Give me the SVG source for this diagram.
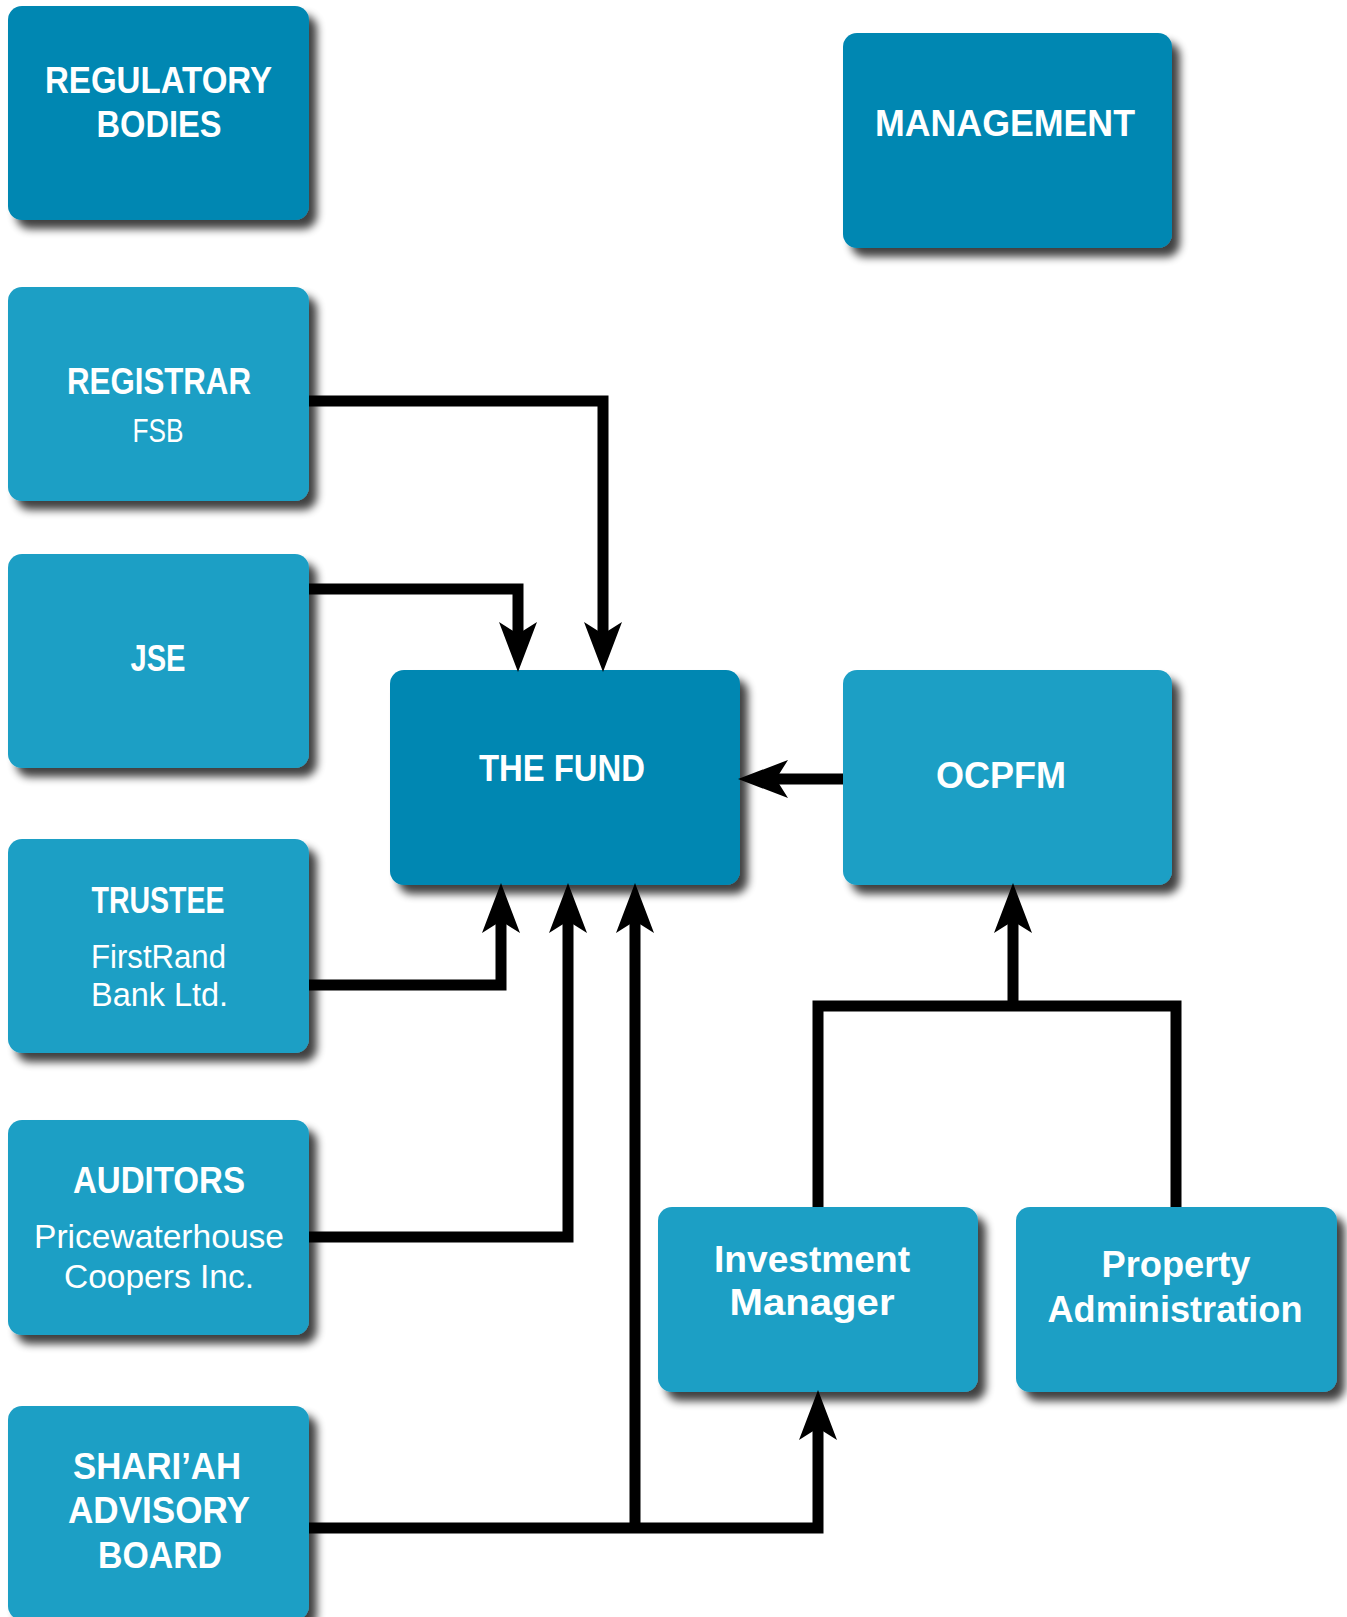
<svg xmlns="http://www.w3.org/2000/svg" width="1347" height="1617" viewBox="0 0 1347 1617">
<defs>
<filter id="sh" x="-10%" y="-10%" width="130%" height="135%">
<feGaussianBlur in="SourceAlpha" stdDeviation="4"/>
<feOffset dx="8" dy="9" result="b"/>
<feComponentTransfer><feFuncA type="linear" slope="0.75"/></feComponentTransfer>
<feMerge><feMergeNode/><feMergeNode in="SourceGraphic"/></feMerge>
</filter>
<marker id="ah" viewBox="0 0 50 38" refX="12" refY="19" markerWidth="50" markerHeight="38" markerUnits="userSpaceOnUse" orient="auto">
<path d="M0,0 L50,19 L0,38 L12,19 Z" fill="#000"/>
</marker>
</defs>
<style>
.dk{fill:#0287B2;filter:url(#sh)}
.lt{fill:#1F9FC5;filter:url(#sh)}
.h{font-family:"Liberation Sans",Arial,sans-serif;font-weight:bold;font-size:37px;fill:#fff;text-anchor:middle}
.s{font-family:"Liberation Sans",Arial,sans-serif;font-weight:normal;font-size:33px;fill:#fff;text-anchor:middle}
.c{fill:none;stroke:#000;stroke-width:11;stroke-linejoin:miter;stroke-linecap:butt}
</style>
<rect width="1347" height="1617" fill="#fff"/>
<g id="regulatory-bodies">
<rect class="dk" x="8" y="6" width="301" height="214" rx="14"/>
<text class="h" x="158.5" y="93" textLength="227" lengthAdjust="spacingAndGlyphs" style="font-size:36px">REGULATORY</text>
<text class="h" x="159" y="137" textLength="125" lengthAdjust="spacingAndGlyphs" style="font-size:36px">BODIES</text>
</g>
<g id="management">
<rect class="dk" x="843" y="33" width="329" height="215" rx="14"/>
<text class="h" x="1005" y="136" textLength="260" lengthAdjust="spacingAndGlyphs">MANAGEMENT</text>
</g>
<g id="registrar">
<rect class="lt" x="8" y="287" width="301" height="214" rx="14"/>
<text class="h" x="159" y="394" textLength="184" lengthAdjust="spacingAndGlyphs">REGISTRAR</text>
<text class="s" x="158" y="442" textLength="51" lengthAdjust="spacingAndGlyphs">FSB</text>
</g>
<g id="jse">
<rect class="lt" x="8" y="554" width="301" height="214" rx="14"/>
<text class="h" x="158" y="671" textLength="55" lengthAdjust="spacingAndGlyphs">JSE</text>
</g>
<g id="the-fund">
<rect class="dk" x="390" y="670" width="350" height="215" rx="14"/>
<text class="h" x="562" y="781" textLength="166" lengthAdjust="spacingAndGlyphs">THE FUND</text>
</g>
<g id="ocpfm">
<rect class="lt" x="843" y="670" width="329" height="215" rx="14"/>
<text class="h" x="1001" y="788" textLength="130" lengthAdjust="spacingAndGlyphs">OCPFM</text>
</g>
<g id="trustee">
<rect class="lt" x="8" y="839" width="301" height="214" rx="14"/>
<text class="h" x="158" y="913" textLength="133" lengthAdjust="spacingAndGlyphs">TRUSTEE</text>
<text class="s" x="158.5" y="968" textLength="135" lengthAdjust="spacingAndGlyphs">FirstRand</text>
<text class="s" x="159.5" y="1006" textLength="137" lengthAdjust="spacingAndGlyphs">Bank Ltd.</text>
</g>
<g id="auditors">
<rect class="lt" x="8" y="1120" width="301" height="215" rx="14"/>
<text class="h" x="159" y="1193" textLength="172" lengthAdjust="spacingAndGlyphs">AUDITORS</text>
<text class="s" x="159" y="1248" textLength="250" lengthAdjust="spacingAndGlyphs">Pricewaterhouse</text>
<text class="s" x="159" y="1288" textLength="190" lengthAdjust="spacingAndGlyphs">Coopers Inc.</text>
</g>
<g id="shariah-advisory-board">
<rect class="lt" x="8" y="1406" width="301" height="214" rx="14"/>
<text class="h" x="157" y="1479" textLength="168" lengthAdjust="spacingAndGlyphs">SHARI’AH</text>
<text class="h" x="159" y="1523" textLength="182" lengthAdjust="spacingAndGlyphs">ADVISORY</text>
<text class="h" x="160" y="1568" textLength="124" lengthAdjust="spacingAndGlyphs">BOARD</text>
</g>
<g id="investment-manager">
<rect class="lt" x="658" y="1207" width="320" height="185" rx="14"/>
<text class="h" x="812" y="1272" textLength="196" lengthAdjust="spacingAndGlyphs">Investment</text>
<text class="h" x="812" y="1315" textLength="165" lengthAdjust="spacingAndGlyphs">Manager</text>
</g>
<g id="property-administration">
<rect class="lt" x="1016" y="1207" width="321" height="185" rx="14"/>
<text class="h" x="1176" y="1277" textLength="149" lengthAdjust="spacingAndGlyphs">Property</text>
<text class="h" x="1175" y="1322" textLength="255" lengthAdjust="spacingAndGlyphs">Administration</text>
</g>
<g id="connectors">
<path class="c" d="M309,401 H603 V634" marker-end="url(#ah)"/>
<path class="c" d="M309,589 H518 V634" marker-end="url(#ah)"/>
<path class="c" d="M309,985 H501 V921" marker-end="url(#ah)"/>
<path class="c" d="M309,1237 H568 V921" marker-end="url(#ah)"/>
<path class="c" d="M309,1528 H818 V1428" marker-end="url(#ah)"/>
<path class="c" d="M635,1533 V921" marker-end="url(#ah)"/>
<path class="c" d="M843,779 H776" marker-end="url(#ah)"/>
<path class="c" d="M818,1207 V1006 H1176 V1207"/>
<path class="c" d="M1013,1006 V921" marker-end="url(#ah)"/>
</g>
</svg>
